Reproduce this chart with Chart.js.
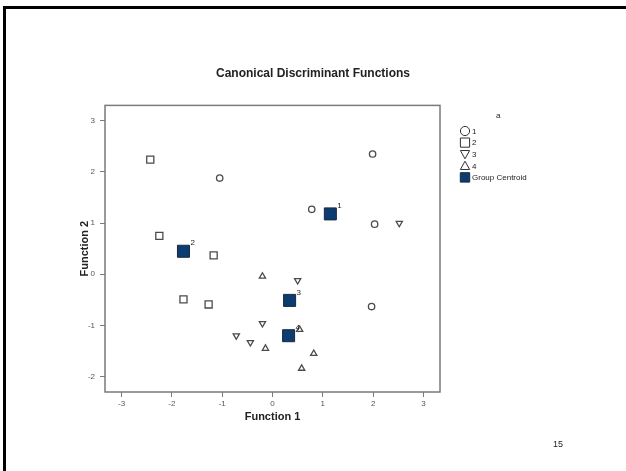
<!DOCTYPE html>
<html>
<head>
<meta charset="utf-8">
<script src="https://cdn.jsdelivr.net/npm/chart.js@4.4.0/dist/chart.umd.min.js"></script>
<style>
  html, body { margin: 0; padding: 0; background: #fff; }
  #wrap { position: relative; width: 626px; height: 471px; overflow: hidden; }
  #frame { position: absolute; left: 3px; top: 6px; right: -10px; bottom: -10px;
           border-top: 3px solid #000; border-left: 3px solid #000; }
  #page { position: absolute; left: 553px; top: 439px; font: 9px Arial, "Liberation Sans", sans-serif; color: #222; }
  canvas { position: absolute; left: 0; top: 0; }
</style>
</head>
<body>
<div id="wrap">
  <div id="frame"></div>
  <canvas id="chart" width="626" height="471"></canvas>
  <div id="page">15</div>
</div>
<script>
// discriminant scores, one pair of arrays per group
const group1X = [-1.05, 1.99, 0.78, 2.03, 1.97];
const group1Y = [1.88, 2.35, 1.27, 0.98, -0.63];
const group2X = [-2.43, -2.25, -1.17, -1.77, -1.27];
const group2Y = [2.24, 0.75, 0.37, -0.49, -0.59];
const group3X = [2.52, 0.50, -0.20, -0.72, -0.44];
const group3Y = [1.00, -0.12, -0.96, -1.20, -1.33];
const group4X = [-0.20, -0.14, 0.82, 0.58, 0.54];
const group4Y = [-0.04, -1.45, -1.55, -1.84, -1.08];
const centroidX = [1.15, -1.77, 0.34, 0.32];
const centroidY = [1.18, 0.45, -0.51, -1.20];
const centroidLabels = ['1', '2', '3', '4'];
const legendLabels = ['1', '2', '3', '4', 'Group Centroid'];
const xTicks = [-3, -2, -1, 0, 1, 2, 3];
const yTicks = [-2, -1, 0, 1, 2, 3];

const gray = '#4a4a4a';
const navy = '#0c3c70';

function pts(xs, ys) {
    return xs.map((x, i) => ({ x: x, y: ys[i] }));
}

function drawMarker(ctx, style, x, y, r, fill, stroke) {
    ctx.save();
    ctx.beginPath();
    if (style === 'circle') {
        ctx.arc(x, y, r, 0, Math.PI * 2);
    } else if (style === 'rect') {
        ctx.rect(x - r, y - r, 2 * r, 2 * r);
    } else if (style === 'up') {
        ctx.moveTo(x, y - r);
        ctx.lineTo(x + r, y + r * 0.8);
        ctx.lineTo(x - r, y + r * 0.8);
        ctx.closePath();
    } else {
        ctx.moveTo(x, y + r);
        ctx.lineTo(x + r, y - r * 0.8);
        ctx.lineTo(x - r, y - r * 0.8);
        ctx.closePath();
    }
    if (fill) { ctx.fillStyle = fill; ctx.fill(); }
    ctx.lineWidth = 1;
    ctx.strokeStyle = stroke;
    ctx.stroke();
    ctx.restore();
}

const extras = {
    id: 'extras',
    afterDraw(chart) {
        const ctx = chart.ctx;
        const a = chart.chartArea;
        ctx.save();
        ctx.strokeStyle = '#7a7a7a';
        ctx.lineWidth = 1.5;
        ctx.strokeRect(a.left, a.top, a.right - a.left, a.bottom - a.top);

        // centroid labels
        const meta = chart.getDatasetMeta(4);
        ctx.fillStyle = '#222';
        ctx.font = '8px Arial, "Liberation Sans", sans-serif';
        ctx.textBaseline = 'middle';
        meta.data.forEach((el, i) => {
            ctx.fillText(centroidLabels[i], el.x + 7, el.y - 8);
        });

        // legend
        const styles = ['circle', 'rect', 'down', 'up', 'rect'];
        ctx.fillText('a', 496, 116);
        legendLabels.forEach((lab, i) => {
            const y = 131 + i * 11.6;
            if (i === 4) {
                drawMarker(ctx, 'rect', 465, y, 4.7, navy, '#1a2a40');
            } else {
                drawMarker(ctx, styles[i], 465, y, 4.6, '#fff', '#333');
            }
            ctx.fillStyle = '#222';
            ctx.fillText(lab, 472, y + 0.5);
        });
        ctx.restore();
    }
};

const tickFont = { family: 'Arial, "Liberation Sans", sans-serif', size: 8 };
const titleFont = { family: 'Arial, "Liberation Sans", sans-serif', size: 11, weight: 'bold' };

new Chart(document.getElementById('chart'), {
    type: 'scatter',
    data: {
        datasets: [
            { data: pts(group1X, group1Y), pointStyle: 'circle', pointRadius: 3.2 },
            { data: pts(group2X, group2Y), pointStyle: 'rect', pointRadius: 5 },
            { data: pts(group3X, group3Y), pointStyle: 'triangle', rotation: 180, pointRadius: 3.6 },
            { data: pts(group4X, group4Y), pointStyle: 'triangle', pointRadius: 3.6 },
            { data: pts(centroidX, centroidY), pointStyle: 'rect', pointRadius: 8.5,
              backgroundColor: navy, borderColor: '#1a2a40', borderWidth: 1 }
        ].map((d, i) => Object.assign({
            backgroundColor: '#fff', borderColor: gray, borderWidth: 1.3, pointHoverRadius: d.pointRadius
        }, d))
    },
    options: {
        responsive: false,
        animation: false,
        events: [],
        layout: { padding: 0 },
        plugins: {
            legend: { display: false },
            tooltip: { enabled: false },
            title: {
                display: true,
                text: 'Canonical Discriminant Functions',
                color: '#222',
                font: { family: 'Arial, "Liberation Sans", sans-serif', size: 12, weight: 'bold' },
                padding: { top: 66, bottom: 25 }
            }
        },
        scales: {
            x: {
                type: 'linear',
                min: -3.33, max: 3.33,
                afterBuildTicks: s => { s.ticks = xTicks.map(v => ({ value: v })); },
                afterFit: s => { s.height = 79; },
                grid: { drawOnChartArea: false, tickLength: 5, color: '#7a7a7a', lineWidth: 1 },
                border: { display: false },
                ticks: { color: '#555', font: tickFont, padding: 2, maxRotation: 0 },
                title: { display: true, text: 'Function 1', color: '#222', font: titleFont,
                         padding: { top: 0, bottom: 47 } }
            },
            y: {
                type: 'linear',
                min: -2.3, max: 3.3,
                afterBuildTicks: s => { s.ticks = yTicks.map(v => ({ value: v })); },
                afterFit: s => { s.width = 105; },
                grid: { drawOnChartArea: false, tickLength: 5, color: '#7a7a7a', lineWidth: 1 },
                border: { display: false },
                ticks: { color: '#555', font: tickFont, padding: 5 },
                title: { display: true, text: 'Function 2', color: '#222', font: titleFont,
                         padding: { top: 78, bottom: 0 } }
            },
            side: {
                type: 'linear',
                position: 'right',
                afterFit: s => { s.width = 186; },
                grid: { display: false },
                border: { display: false },
                ticks: { display: false }
            }
        }
    },
    plugins: [extras]
});
</script>
</body>
</html>
